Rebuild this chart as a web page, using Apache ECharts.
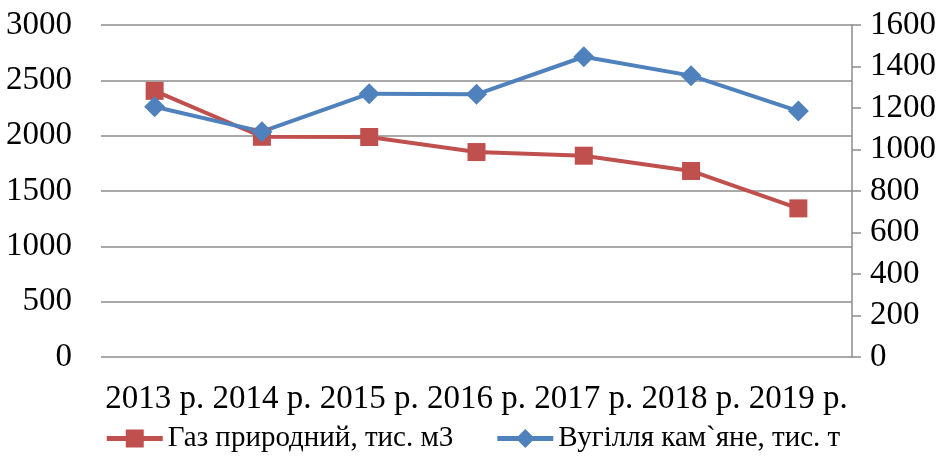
<!DOCTYPE html>
<html><head><meta charset="utf-8">
<script src="https://cdn.jsdelivr.net/npm/echarts@6/dist/echarts.min.js"></script>
<style>html,body{margin:0;padding:0;background:#fff}#c{width:947px;height:470px}</style>
</head><body><div id="c"></div>
<script>
const categories = ['2013 р.', '2014 р.', '2015 р.', '2016 р.', '2017 р.', '2018 р.', '2019 р.'];
const gasValues = [2405, 1990, 1988, 1852, 1819, 1681, 1343];
const coalValues = [1206, 1086, 1269, 1266, 1447, 1356, 1185];
const gasName = 'Газ природний, тис. м3';
const coalName = 'Вугілля кам`яне, тис. т';

const font = '"Liberation Serif", "Times New Roman", serif';
const redIcon = 'path://M0,7H56V12H0Z M19,0.5H37V18.5H19Z';
const blueIcon = 'path://M0,7H56V12H0Z M28,0L37.5,9.5L28,19L18.5,9.5Z';
const chart = echarts.init(document.getElementById('c'));
chart.setOption({
  animation: false,
  textStyle: { fontFamily: font },
  grid: { left: 101, right: 95, top: 25, bottom: 113 },
  legend: {
    bottom: 12, left: 'center', itemGap: 44, itemWidth: 56, itemHeight: 19,
    textStyle: { fontFamily: font, fontSize: 29, color: '#000' },
    data: [{ name: gasName, icon: redIcon }, { name: coalName, icon: blueIcon }]
  },
  xAxis: {
    type: 'category', data: categories, boundaryGap: true,
    axisLine: { show: false }, axisTick: { show: false },
    axisLabel: { fontFamily: font, fontSize: 33, color: '#000', margin: 26, interval: 0 }
  },
  yAxis: [
    { type: 'value', min: 0, max: 3000, interval: 500, position: 'left',
      axisLine: { show: false }, axisTick: { show: false },
      axisLabel: { fontFamily: font, fontSize: 33, color: '#000', margin: 29, formatter: v => String(v) },
      splitLine: { lineStyle: { color: '#8c8c8c', width: 1.5 } } },
    { type: 'value', min: 0, max: 1600, interval: 200, position: 'right',
      axisLine: { show: true, lineStyle: { color: '#8c8c8c', width: 1.5 } },
      axisTick: { show: true, length: 9, lineStyle: { color: '#8c8c8c', width: 1.5 } },
      axisLabel: { fontFamily: font, fontSize: 33, color: '#000', margin: 18, formatter: v => String(v) },
      splitLine: { show: false } }
  ],
  series: [
    { name: gasName, type: 'line', yAxisIndex: 0, data: gasValues,
      symbol: 'rect', symbolSize: 18, itemStyle: { color: '#C0504D' },
      lineStyle: { width: 4, color: '#C0504D' } },
    { name: coalName, type: 'line', yAxisIndex: 1, data: coalValues,
      symbol: 'diamond', symbolSize: 21, itemStyle: { color: '#4F81BD' },
      lineStyle: { width: 4, color: '#4F81BD' } }
  ]
});
</script></body></html>
